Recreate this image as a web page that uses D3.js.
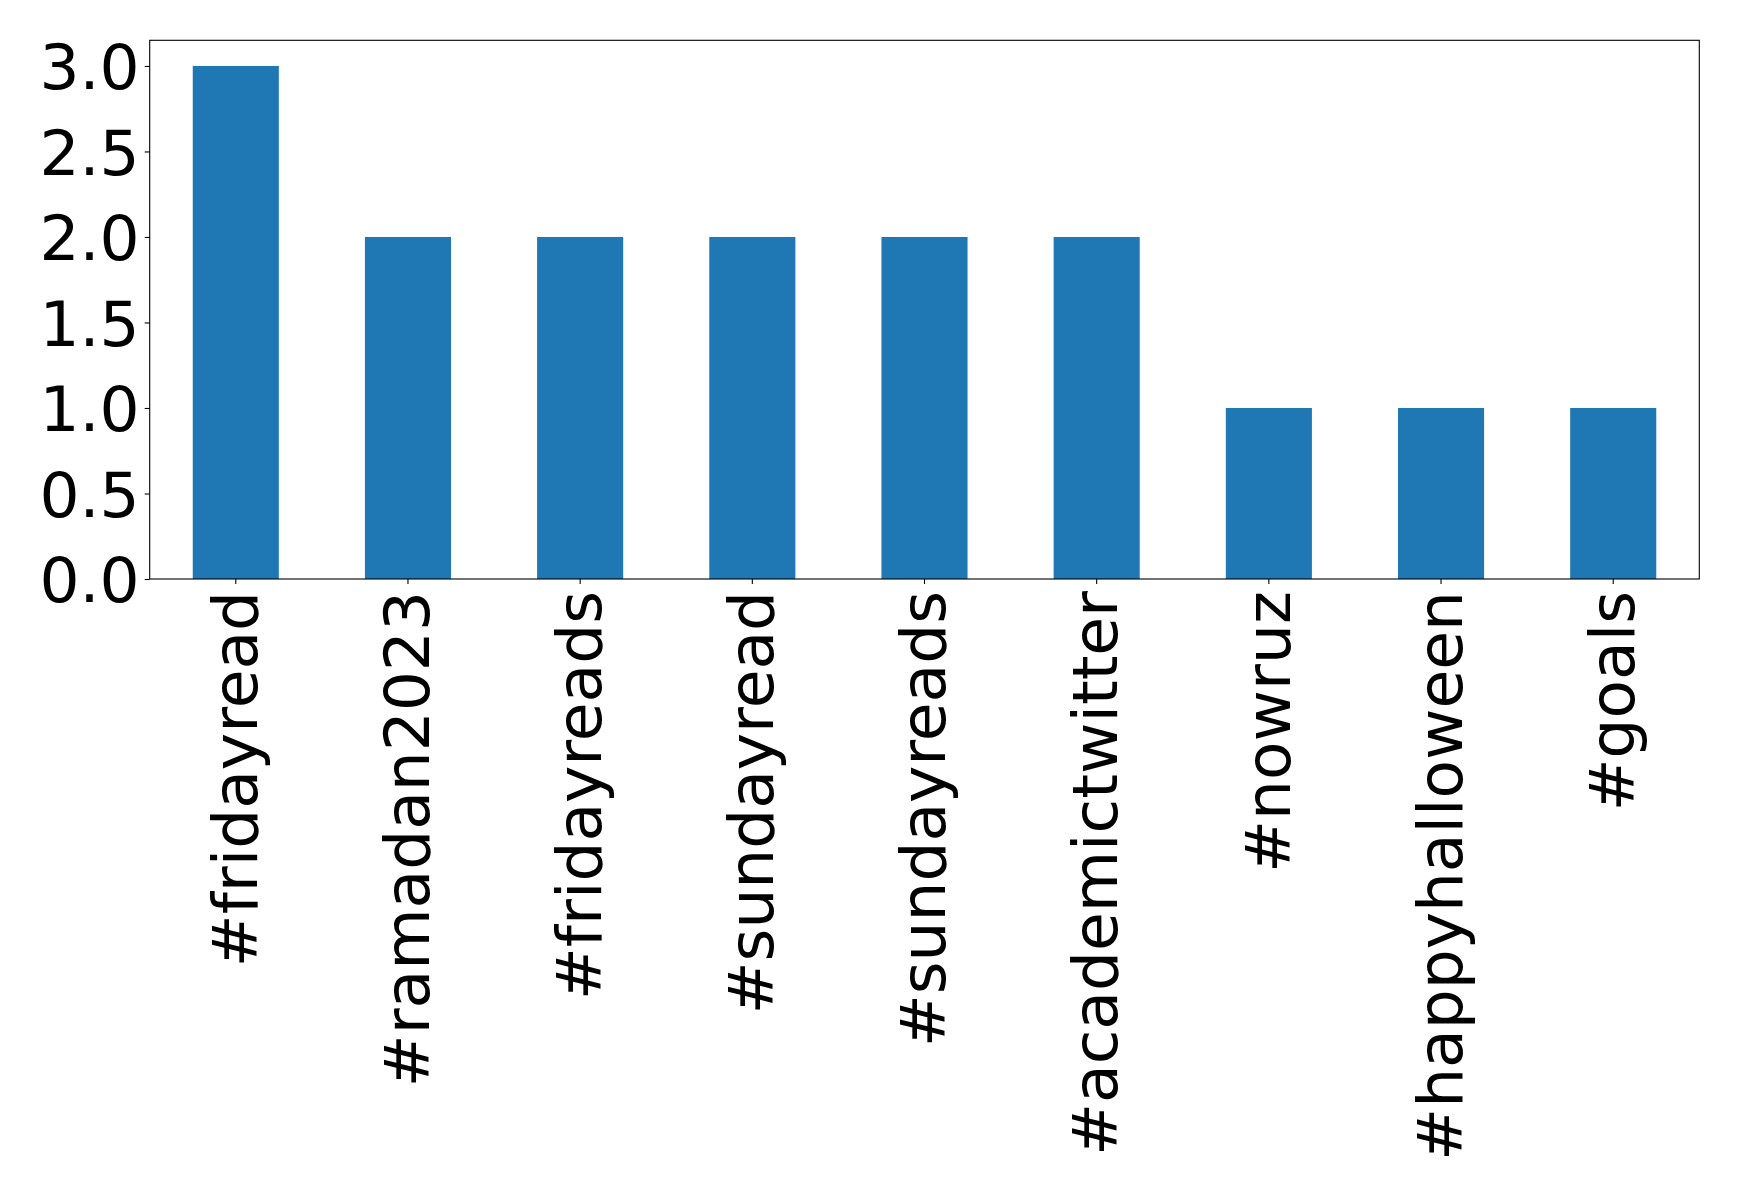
<!DOCTYPE html>
<html>
<head>
<meta charset="utf-8">
<script src="https://cdn.jsdelivr.net/npm/d3@7"></script>
<style>
  body { margin: 0; background: #fff; }
  svg text { font-family: "DejaVu Sans", sans-serif; fill: #000; }
</style>
</head>
<body>
<div id="chart"></div>
<script>
// hashtag counts
var hashtags = ["#fridayread", "#ramadan2023", "#fridayreads", "#sundayread", "#sundayreads",
                "#academictwitter", "#nowruz", "#happyhalloween", "#goals"];
var counts = [3, 2, 2, 2, 2, 2, 1, 1, 1];
var yTicks = [0, 0.5, 1, 1.5, 2, 2.5, 3];

var WIDTH = 1739, HEIGHT = 1193;
var margin = { left: 149.7, top: 40.3, right: WIDTH - 1699.3, bottom: HEIGHT - 579 };
var plotW = WIDTH - margin.left - margin.right,
    plotH = HEIGHT - margin.top - margin.bottom;
var FONT = 63;

var svg = d3.select("#chart").append("svg")
    .attr("width", WIDTH)
    .attr("height", HEIGHT);

var g = svg.append("g")
    .attr("transform", "translate(" + margin.left + "," + margin.top + ")");

// band scale: matplotlib bar width 0.5 of each category slot
var x = d3.scaleBand()
    .domain(hashtags)
    .range([0, plotW])
    .paddingInner(0.5)
    .paddingOuter(0.25);

var y = d3.scaleLinear()
    .domain([0, 3.15])
    .range([plotH, 0]);

// bars
g.selectAll("rect.bar")
    .data(hashtags)
    .enter().append("rect")
    .attr("class", "bar")
    .attr("x", function (d) { return x(d); })
    .attr("y", function (d, i) { return y(counts[i]); })
    .attr("width", x.bandwidth())
    .attr("height", function (d, i) { return y(0) - y(counts[i]); })
    .attr("fill", "#1f77b4");

// y axis
var yAxis = g.append("g")
    .call(d3.axisLeft(y).tickValues(yTicks).tickFormat(d3.format(".1f"))
        .tickSize(5).tickPadding(5));
yAxis.select(".domain").remove();
yAxis.selectAll(".tick line").attr("stroke", "#000").attr("stroke-width", 1.1);
yAxis.selectAll(".tick text")
    .attr("font-size", FONT)
    .attr("dy", "0.36em");

// x axis
var xAxis = g.append("g")
    .attr("transform", "translate(0," + plotH + ")")
    .call(d3.axisBottom(x).tickSize(5).tickPadding(0));
xAxis.select(".domain").remove();
xAxis.selectAll(".tick line").attr("stroke", "#000").attr("stroke-width", 1.1);
xAxis.selectAll(".tick text")
    .attr("font-size", FONT)
    .attr("text-anchor", "end")
    .attr("transform", "rotate(-90)")
    .attr("x", -12)
    .attr("y", 0)
    .attr("dy", "0.33em");

// frame
g.append("rect")
    .attr("width", plotW)
    .attr("height", plotH)
    .attr("fill", "none")
    .attr("stroke", "#000")
    .attr("stroke-width", 1.1);
</script>
</body>
</html>
